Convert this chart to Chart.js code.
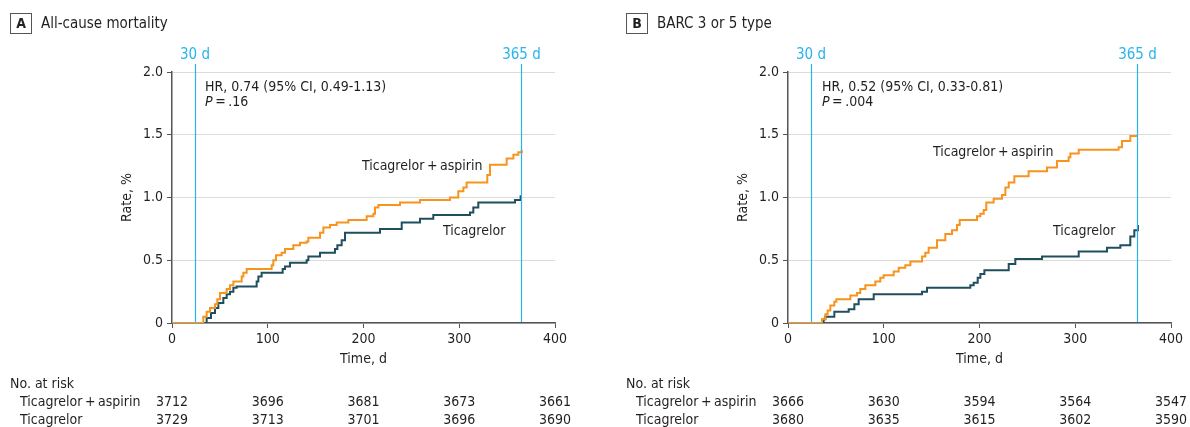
<!DOCTYPE html>
<html>
<head>
<meta charset="utf-8">
<script src="https://cdn.jsdelivr.net/npm/chart.js@4.4.1/dist/chart.umd.min.js"></script>
<style>
  body { margin: 0; background: #fff; }
  #wrap { position: relative; width: 1190px; height: 427px; }
  canvas { position: absolute; top: 0; }
  #panelA { left: 0; }
  #panelB { left: 616px; }
</style>
</head>
<body>
<div id="wrap">
  <canvas id="panelA" width="574" height="427"></canvas>
  <canvas id="panelB" width="574" height="427"></canvas>
</div>
<script>
const FONT = '"Liberation Sans Narrow", "DejaVu Sans Condensed", "Open Sans", sans-serif';
const TEXT = '#231f20';
const ORANGE = '#f7941d';
const TEAL = '#1f4e5c';
const BLUE = '#29b4ec';

const xTicks = [0, 100, 200, 300, 400];
const markerDays = [24, 365];
const markerLabels = ['30 d', '365 d'];
const groups = ['Ticagrelor\u2009+\u2009aspirin', 'Ticagrelor'];

// A: all-cause mortality
const aAspDays = [0, 32.7, 36.2, 39.7, 44.9, 47.3, 50.1, 57.1, 60.6, 64.1, 72.8, 74.5, 78.0, 104.1, 105.8, 108.6, 114.5, 118.0, 126.7, 133.7, 140.6, 142.4, 154.6, 158.1, 165.0, 172.0, 184.2, 203.3, 210.3, 212.0, 215.5, 238.1, 259.0, 290.3, 299.0, 304.3, 307.7, 329.3, 332.1, 349.5, 356.5, 361.7, 365.2];
const aAspRate = [0, 0.05, 0.09, 0.12, 0.15, 0.19, 0.24, 0.27, 0.30, 0.33, 0.37, 0.40, 0.43, 0.46, 0.50, 0.54, 0.56, 0.59, 0.62, 0.64, 0.65, 0.68, 0.72, 0.76, 0.78, 0.80, 0.82, 0.85, 0.87, 0.92, 0.94, 0.96, 0.98, 1.00, 1.05, 1.08, 1.12, 1.18, 1.26, 1.31, 1.34, 1.36, 1.38];
const aTicDays = [0, 36.2, 40.7, 44.9, 48.4, 53.6, 57.1, 60.6, 64.1, 67.5, 88.4, 90.2, 93.6, 115.6, 118.0, 123.2, 140.6, 142.4, 154.6, 170.2, 172.7, 177.2, 180.7, 217.2, 239.9, 259.0, 272.9, 311.2, 314.7, 319.9, 358.2, 364.1, 365.5];
const aTicRate = [0, 0.04, 0.08, 0.12, 0.16, 0.20, 0.23, 0.25, 0.28, 0.29, 0.33, 0.37, 0.40, 0.43, 0.45, 0.48, 0.50, 0.53, 0.56, 0.59, 0.62, 0.66, 0.72, 0.75, 0.80, 0.83, 0.86, 0.88, 0.92, 0.96, 0.98, 1.01, 1.01];
const aRiskAsp = [3712, 3696, 3681, 3673, 3661];
const aRiskTic = [3729, 3713, 3701, 3696, 3690];

// B: BARC 3 or 5 type bleeding
const bAspDays = [0, 35.5, 39.0, 41.4, 44.2, 48.4, 50.5, 65.1, 72.1, 75.5, 80.8, 91.2, 96.4, 99.9, 110.4, 115.6, 122.5, 127.8, 140.0, 143.4, 146.9, 155.6, 164.3, 171.3, 176.5, 179.3, 197.4, 200.9, 204.4, 207.1, 214.8, 223.5, 227.0, 230.5, 236.4, 251.3, 270.5, 280.9, 293.1, 294.9, 303.6, 345.3, 348.8, 357.5, 365.5];
const bAspRate = [0, 0.03, 0.07, 0.10, 0.14, 0.17, 0.19, 0.22, 0.24, 0.27, 0.30, 0.33, 0.36, 0.38, 0.41, 0.44, 0.46, 0.49, 0.53, 0.56, 0.60, 0.66, 0.71, 0.74, 0.78, 0.82, 0.85, 0.87, 0.90, 0.96, 0.99, 1.02, 1.08, 1.12, 1.17, 1.21, 1.24, 1.29, 1.32, 1.35, 1.38, 1.40, 1.45, 1.49, 1.49];
const bTicDays = [0, 37.2, 39.0, 48.4, 63.4, 69.3, 73.8, 89.5, 139.9, 145.2, 190.4, 193.9, 198.1, 200.9, 205.1, 230.5, 237.4, 265.3, 303.6, 333.2, 347.1, 357.5, 361.7, 365.5];
const bTicRate = [0, 0.03, 0.05, 0.09, 0.11, 0.15, 0.19, 0.23, 0.25, 0.28, 0.30, 0.32, 0.36, 0.39, 0.42, 0.47, 0.51, 0.53, 0.57, 0.60, 0.62, 0.69, 0.74, 0.78];
const bRiskAsp = [3666, 3630, 3594, 3564, 3547];
const bRiskTic = [3680, 3635, 3615, 3602, 3590];

Chart.defaults.font.family = FONT;
Chart.defaults.color = TEXT;

function pts(days, rates) {
  return days.map((d, i) => ({ x: d, y: rates[i] }));
}

const panelText = {
  id: 'panelText',
  afterDraw(chart, args, o) {
    const c = chart.ctx, x = chart.scales.x, y = chart.scales.y, a = chart.chartArea;
    c.save();
    // landmark lines
    c.strokeStyle = BLUE;
    c.lineWidth = 1.2;
    markerDays.forEach(d => {
      const px = Math.round(x.getPixelForValue(d)) + 0.5;
      c.beginPath();
      c.moveTo(px, 64);
      c.lineTo(px, a.bottom - 1);
      c.stroke();
    });

    // panel letter + title
    c.strokeStyle = '#555';
    c.lineWidth = 1;
    c.strokeRect(10.5, 13.5, 21, 20);
    c.fillStyle = TEXT;
    c.textBaseline = 'middle';
    c.textAlign = 'center';
    c.font = 'bold 14px ' + FONT;
    c.fillText(o.letter, 21, 24);
    c.textAlign = 'left';
    c.font = '15px ' + FONT;
    c.fillText(o.title, 41, 24);

    // marker labels
    c.fillStyle = BLUE;
    c.textAlign = 'center';
    c.font = '15px ' + FONT;
    markerDays.forEach((d, i) => c.fillText(markerLabels[i], x.getPixelForValue(d), 55));

    // HR annotation
    c.fillStyle = TEXT;
    c.textAlign = 'left';
    c.font = '14px ' + FONT;
    const hx = x.getPixelForValue(o.hrAt);
    c.fillText(o.hr, hx, y.getPixelForValue(1.88));
    c.font = 'italic 14px ' + FONT;
    c.fillText('P', hx, y.getPixelForValue(1.755));
    const pw = c.measureText('P').width;
    c.font = '14px ' + FONT;
    c.fillText('\u2009=\u2009' + o.p, hx + pw, y.getPixelForValue(1.755));

    // curve labels
    c.fillText(groups[0], x.getPixelForValue(o.aspLabel[0]), y.getPixelForValue(o.aspLabel[1]));
    c.fillText(groups[1], x.getPixelForValue(o.ticLabel[0]), y.getPixelForValue(o.ticLabel[1]));

    // axis titles
    c.textAlign = 'center';
    c.fillText('Time, d', (a.left + a.right) / 2, 359);
    c.save();
    c.translate(127, (a.top + a.bottom) / 2);
    c.rotate(-Math.PI / 2);
    c.fillText('Rate, %', 0, 0);
    c.restore();

    // number at risk
    c.textAlign = 'left';
    c.fillText('No. at risk', 10, 384);
    c.fillText(groups[0], 20, 402);
    c.fillText(groups[1], 20, 420);
    c.textAlign = 'center';
    xTicks.forEach((t, i) => {
      const px = x.getPixelForValue(t);
      c.fillText(String(o.riskAsp[i]), px, 402);
      c.fillText(String(o.riskTic[i]), px, 420);
    });
    c.restore();
  }
};

function makePanel(id, p) {
  new Chart(document.getElementById(id), {
    type: 'line',
    data: {
      datasets: [
        { label: groups[0], data: pts(p.aspDays, p.aspRate), borderColor: ORANGE, borderWidth: 2, stepped: true, pointRadius: 0, fill: false },
        { label: groups[1], data: pts(p.ticDays, p.ticRate), borderColor: TEAL, borderWidth: 2, stepped: true, pointRadius: 0, fill: false }
      ]
    },
    options: {
      responsive: false,
      animation: false,
      layout: { padding: { top: 72, right: 19, left: 0, bottom: 0 } },
      plugins: {
        legend: { display: false },
        tooltip: { enabled: false },
        panelText: p
      },
      scales: {
        x: {
          type: 'linear', min: 0, max: 400,
          afterFit: s => { s.height = 104; },
          afterBuildTicks: s => { s.ticks = xTicks.map(v => ({ value: v })); },
          ticks: { font: { size: 14 }, color: TEXT, padding: 3, maxRotation: 0 },
          grid: { drawOnChartArea: false, tickColor: '#555', tickLength: 5 },
          border: { color: '#555', width: 1.5 }
        },
        y: {
          min: 0, max: 2,
          afterFit: s => { s.width = 172; },
          ticks: { stepSize: 0.5, font: { size: 14 }, color: TEXT, padding: 4,
                   callback: v => v === 0 ? '0' : v.toFixed(1) },
          grid: { color: '#dcdcdc', tickColor: '#555', tickLength: 5 },
          border: { color: '#555', width: 1.5 }
        }
      }
    },
    plugins: [panelText]
  });
}

makePanel('panelA', {
  letter: 'A', title: 'All-cause mortality',
  hr: 'HR, 0.74 (95% CI, 0.49-1.13)', p: '.16', hrAt: 34.5,
  aspLabel: [198.4, 1.245], ticLabel: [283, 0.727],
  aspDays: aAspDays, aspRate: aAspRate, ticDays: aTicDays, ticRate: aTicRate,
  riskAsp: aRiskAsp, riskTic: aRiskTic
});
makePanel('panelB', {
  letter: 'B', title: 'BARC 3 or 5 type',
  hr: 'HR, 0.52 (95% CI, 0.33-0.81)', p: '.004', hrAt: 35.5,
  aspLabel: [151.4, 1.357], ticLabel: [276.8, 0.727],
  aspDays: bAspDays, aspRate: bAspRate, ticDays: bTicDays, ticRate: bTicRate,
  riskAsp: bRiskAsp, riskTic: bRiskTic
});
</script>
</body>
</html>
